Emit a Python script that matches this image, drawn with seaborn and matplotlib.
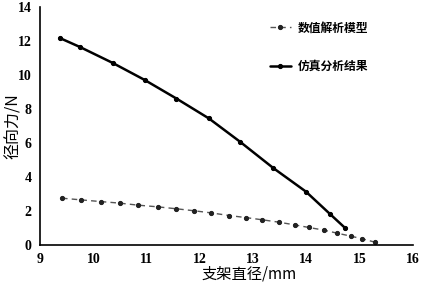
import matplotlib
matplotlib.use("Agg")
import matplotlib.pyplot as plt
import seaborn as sns
import pandas as pd

# 仿真分析结果 (solid)
sim_x = [9.37, 9.75, 10.36, 10.96, 11.56, 12.17, 12.75, 13.38, 13.99, 14.44, 14.73]
sim_y = [12.18, 11.65, 10.72, 9.72, 8.62, 7.45, 6.09, 4.53, 3.15, 1.84, 1.00]

# 数值解析模型 (dashed)
num_x = [9.41, 9.77, 10.14, 10.49, 10.84, 11.21, 11.55, 11.89, 12.20, 12.55,
         12.86, 13.17, 13.48, 13.78, 14.04, 14.33, 14.58, 14.83, 15.05, 15.28]
num_y = [2.76, 2.66, 2.56, 2.47, 2.35, 2.25, 2.14, 2.02, 1.90, 1.74,
         1.62, 1.49, 1.35, 1.19, 1.04, 0.88, 0.70, 0.53, 0.37, 0.18]

x_ticks = [9, 10, 11, 12, 13, 14, 15, 16]
y_ticks = [0, 2, 4, 6, 8, 10, 12, 14]

df_num = pd.DataFrame({"x": num_x, "y": num_y})
df_sim = pd.DataFrame({"x": sim_x, "y": sim_y})

sns.set_theme(style="white")
plt.rcParams["font.family"] = ["Liberation Serif", "Noto Sans CJK SC", "DejaVu Sans"]
plt.rcParams["text.color"] = "black"
plt.rcParams["xtick.color"] = "black"
plt.rcParams["ytick.color"] = "black"
plt.rcParams["axes.labelcolor"] = "black"

fig = plt.figure(figsize=(4.23, 2.85), dpi=100)
ax = fig.add_axes([0.095, 0.14, 0.881, 0.835])

sns.lineplot(data=df_num, x="x", y="y", ax=ax, color="#555555", linewidth=1.0,
             linestyle=(0, (4, 3)), marker="o", markersize=3,
             markerfacecolor="#222222", markeredgecolor="#222222",
             label="数值解析模型")
sns.lineplot(data=df_sim, x="x", y="y", ax=ax, color="black", linewidth=1.8,
             marker="o", markersize=3, markerfacecolor="black",
             markeredgecolor="black", label="仿真分析结果")

ax.set_xlim(9, 16)
ax.set_ylim(0, 14)
ax.set_xticks(x_ticks)
ax.set_yticks(y_ticks)
ax.set_xticklabels([str(t) for t in x_ticks], fontfamily="Liberation Serif",
                   fontweight="bold", fontsize=10, color="black")
ax.set_yticklabels([str(t) for t in y_ticks], fontfamily="Liberation Serif",
                   fontweight="bold", fontsize=10, color="black")
ax.tick_params(axis="both", length=0, pad=6)

for side in ["top", "right"]:
    ax.spines[side].set_visible(False)
for side in ["left", "bottom"]:
    ax.spines[side].set_color("black")
    ax.spines[side].set_linewidth(1.2)

cjk = ["Noto Sans CJK SC", "DejaVu Sans"]
ax.set_xlabel("支架直径/mm", fontsize=11, family=cjk, color="black")
ax.set_ylabel("径向力/N", fontsize=11.5, family=cjk, color="black")
ax.xaxis.set_label_coords(0.56, -0.085)
ax.yaxis.set_label_coords(-0.05, 0.5)

leg = ax.legend(loc="upper right", bbox_to_anchor=(0.91, 0.985), frameon=False,
                labelspacing=2.2, handlelength=1.8, handletextpad=0.6,
                prop={"family": cjk, "weight": "bold", "size": 8.5})

plt.savefig("out.png", dpi=100)
